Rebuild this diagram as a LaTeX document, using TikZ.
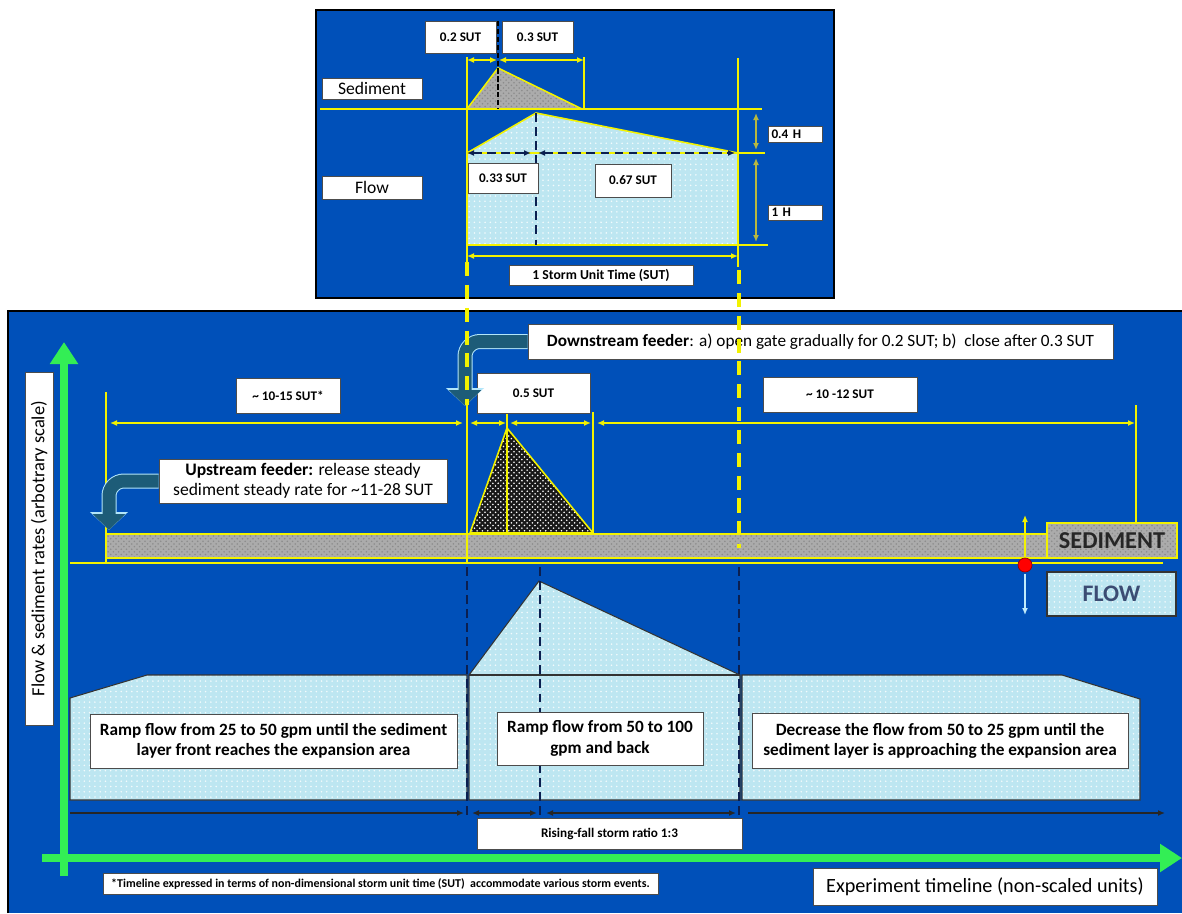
\documentclass[tikz,border=0pt]{standalone}
\usepackage{fontspec}
\setmainfont{Carlito}
\usetikzlibrary{arrows.meta,patterns}
\definecolor{panelblue}{HTML}{0050B9}
\definecolor{lineyellow}{HTML}{F2F200}
\definecolor{axisgreen}{HTML}{33EE55}
\definecolor{feederteal}{HTML}{1D5C78}
\definecolor{waterblue}{HTML}{BDE6F1}
\definecolor{navydash}{HTML}{0B1F50}
\definecolor{dimolive}{HTML}{B8B840}
\definecolor{stonegray}{HTML}{ABABAB}

\begin{document}
\begin{tikzpicture}[x=0.2mm, y=-0.2mm, >={Latex[length=1.4mm,width=1.2mm]}]
  \tikzset{
    boxsize/.style 2 args={minimum width=#1*0.2mm, minimum height=#2*0.2mm},
    lbl/.style={draw=black!70, fill=white, inner sep=0pt, align=center, font=\bfseries\fontsize{7.5}{9}\selectfont},
    txtbox/.style={lbl, font=\bfseries\fontsize{9.8}{11.5}\selectfont},
    plainbox/.style={lbl, font=\fontsize{10}{11.5}\selectfont},
    ydim/.style={lineyellow, line width=0.9pt},
    ydash/.style={lineyellow, line width=1.8pt, dash pattern=on 8pt off 5pt},
    ndash/.style={navydash, line width=1.3pt, dash pattern=on 5pt off 3pt},
    water/.style={draw=black!80, line width=0.6pt, preaction={fill=waterblue}, pattern=dots, pattern color=white!80!waterblue},
    stone/.style={draw=lineyellow, line width=0.9pt, preaction={fill=stonegray}, pattern=crosshatch dots, pattern color=black!45},
    darkstone/.style={draw=lineyellow, line width=0.9pt, preaction={fill=black!90}, pattern=crosshatch dots, pattern color=white!85},
    feeder/.style={feederteal, line width=2.6mm, rounded corners=3mm, -{Triangle[length=3.2mm,width=6.4mm]},
      preaction={draw=white!70!cyan, line width=3mm, -{Triangle[length=3.6mm,width=7.4mm]}}},
    axis/.style={axisgreen, line width=4pt, -{Triangle[length=4.4mm,width=5.4mm]}},
    timearrow/.style={black!85, line width=1.2pt}
  }
  \useasboundingbox (0,0) rectangle (1182,913);
  \fill[white] (0,0) rectangle (1182,913);

  % storm unit panel
  \draw[black, line width=1pt, fill=panelblue] (316,10) rectangle (834,298);
  \draw[water, draw=lineyellow, line width=0.9pt] (467,245) -- (467,153) -- (536,113) -- (738,153) -- (738,245) -- cycle;
  \draw[stone, pattern color=black!45] (467,109) -- (498,68) -- (582,109) -- cycle;
  \draw[ydim] (320,109) -- (762,109);
  \draw[ydim] (467,153) -- (765,153);
  \draw[ydim] (467,245) -- (768,245);
  \draw[ydim] (467,57) -- (467,262);
  \draw[ydim] (738,58) -- (738,267);
  \draw[ydim] (584,57) -- (584,109);
  \draw[ydim, <->] (467,60) -- (497,60);
  \draw[ydim, <->] (499,60) -- (584,60);
  \draw[ydim, <->] (467,256) -- (738,256);
  \draw[black, line width=1.2pt, dash pattern=on 3pt off 1.5pt] (498,21) -- (498,109);
  \draw[ndash] (536,113) -- (536,245);
  \draw[ndash, <->] (467,153) -- (531,153);
  \draw[ndash, <->] (538,153) -- (735,153);
  \draw[dimolive, line width=0.9pt, <->] (756,113) -- (756,150);
  \draw[dimolive, line width=0.9pt, <->] (756,158) -- (756,242);
  \node[lbl, boxsize={71}{32}] (sut02) at (460.5,37) {0.2 SUT};
  \node[lbl, boxsize={71}{32}] (sut03) at (537.5,37) {0.3 SUT};
  \node[plainbox, boxsize={100}{21}] (sedlbl) at (372,88.5) {Sediment};
  \node[plainbox, boxsize={100}{23}] (flowlbl) at (372,187.5) {Flow};
  \node[lbl, boxsize={70}{30}] (sut033) at (503,178) {0.33 SUT};
  \node[lbl, boxsize={76}{33}] (sut067) at (633,180.5) {0.67 SUT};
  \node[lbl, boxsize={54}{16}, align=left, text width=9.4mm] (h04) at (795,134) {0.4\ H};
  \node[lbl, boxsize={54}{15}, align=left, text width=9.4mm] (h1) at (795,212.5) {1 H};
  \node[lbl, boxsize={184}{20}, font=\bfseries\fontsize{7.8}{9}\selectfont] (sutlen) at (601,275) {1 Storm Unit Time (SUT)};

  % experiment panel
  \fill[panelblue] (8,311) rectangle (1182,913);
  \draw[black, line width=1pt] (8,913) -- (8,311) -- (1182,311);
  \draw[water] (70,800) -- (70,698) -- (147,675) -- (467,675) -- (467,800) -- cycle;
  \draw[water] (469,800) -- (469,675) -- (539,581) -- (740,675) -- (740,800) -- cycle;
  \draw[black!80, line width=0.6pt] (469,675) -- (740,675);
  \draw[water] (742,800) -- (742,675) -- (1062,675) -- (1140,699) -- (1140,800) -- cycle;
  \draw[ndash] (467,567) -- (467,818);
  \draw[ndash] (540,567) -- (540,818);
  \draw[ndash] (739,567) -- (739,818);
  \node[txtbox, boxsize={367}{54}] (ramplow) at (273.5,741) {Ramp flow from 25 to 50 gpm until the sediment\\layer front reaches the expansion area};
  \node[txtbox, boxsize={206}{53}] (ramphigh) at (600,738.5) {Ramp flow from 50 to 100\\gpm and back};
  \node[txtbox, boxsize={376}{55}] (rampdown) at (940,740.5) {Decrease the flow from 50 to 25 gpm until the\\sediment layer is approaching the expansion area};
  \draw[timearrow, ->] (70,813) -- (464,813);
  \draw[timearrow, <->] (472,813) -- (537,813);
  \draw[timearrow, <->] (546,813) -- (736,813);
  \draw[timearrow, ->] (748,813) -- (1165,813);
  \node[lbl, boxsize={265}{31}] (ratio) at (609.5,833.5) {Rising-fall storm ratio 1:3};
  \draw[axis] (64,876) -- (64,342);
  \draw[axis] (42,858) -- (1182,858);
  \node[lbl, font=\fontsize{10.5}{12}\selectfont, rotate=90, boxsize={353}{28}] (ylbl) at (39,548.5) {Flow \& sediment rates (arbotrary scale)};
  \node[lbl, boxsize={555}{21}, font=\bfseries\fontsize{6.8}{8}\selectfont] (note) at (380.5,883.5) {*Timeline expressed in terms of non-dimensional storm unit time (SUT)\ \ accommodate various storm events.};
  \node[lbl, boxsize={344}{37}, font=\fontsize{11.5}{13}\selectfont] (xlbl) at (985,886.5) {Experiment timeline (non-scaled units)};

  % sediment supply
  \draw[stone] (106,534) rectangle (1047,558);
  \node[lbl, stone, boxsize={130}{35}, font=\bfseries\fontsize{13.8}{15}\selectfont, text=black!85] (sedkey) at (1112,540.5) {SEDIMENT};
  \node[lbl, water, boxsize={129}{44}, font=\bfseries\fontsize{13.5}{15}\selectfont, text=navydash!80] (flowkey) at (1111.5,594) {FLOW};
  \draw[darkstone] (470,533) -- (507,428) -- (593,533) -- cycle;
  \draw[ydim] (70,563) -- (1163,563);
  \draw[ydim] (106,392) -- (106,563);
  \draw[ydim] (467,405) -- (467,563);
  \draw[ydim] (507,407) -- (507,533);
  \draw[ydim] (593,412) -- (593,533);
  \draw[ydim] (1136,405) -- (1136,523);
  \draw[ydim, <->] (110,423) -- (463,423);
  \draw[ydim, <->] (470,423) -- (506,423);
  \draw[ydim, <->] (510,423) -- (591,423);
  \draw[ydim, <->] (597,423) -- (1135,423);
  \draw[ydim, ->] (1025,558) -- (1025,515);
  \draw[white!75!cyan, line width=0.9pt, ->] (1025,574) -- (1025,615);
  \fill[red, draw=red!60!black] (1025,565) circle (1.4mm);
  \node[lbl, boxsize={104}{35}] (early) at (288,395.5) {\textasciitilde{} 10-15 SUT*};
  \node[lbl, boxsize={113}{40}] (pulse) at (533.5,393) {0.5 SUT};
  \node[lbl, boxsize={154}{35}] (late) at (840,394.5) {\textasciitilde{} 10 -12 SUT};
  \node[lbl, boxsize={585}{35}, font=\fontsize{9.8}{11}\selectfont] (down) at (820.5,341.5) {\textbf{Downstream feeder}: a) open gate gradually for 0.2 SUT; b)\ \ close after 0.3 SUT};
  \node[plainbox, boxsize={288}{44}] (up) at (303,481) {\textbf{Upstream feeder:} release steady\\sediment steady rate for \textasciitilde11-28 SUT};
  \draw[feeder] (down.west) -| (465,406);
  \draw[feeder] (up.west) -| (109,530);

  % storm window guides
  \draw[ydash] (467,262) -- (467,405);
  \draw[ydash] (739,270) -- (739,548);
\end{tikzpicture}
\end{document}
